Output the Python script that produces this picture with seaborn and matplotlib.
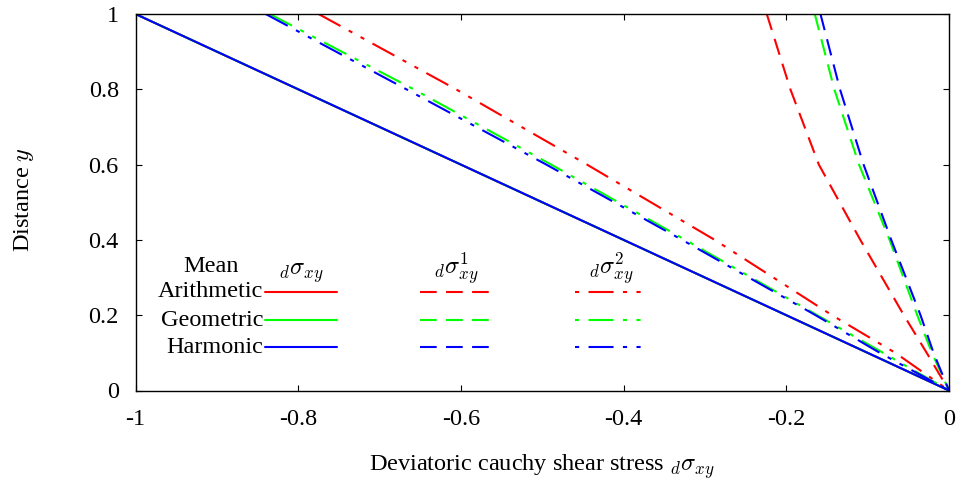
import matplotlib
matplotlib.use("Agg")
import matplotlib.pyplot as plt
import numpy as np
import pandas as pd
import seaborn as sns
from matplotlib.ticker import FixedLocator, FuncFormatter

# ---------------- data ----------------
means = ["Arithmetic", "Geometric", "Harmonic"]
quantities = ["s0", "s1", "s2"]
quantity_labels = [r"${}_{d}\sigma_{xy}$", r"${}_{d}\sigma^{1}_{xy}$", r"${}_{d}\sigma^{2}_{xy}$"]
colors = ["#ff0000", "#00ff00", "#0000ff"]

# solid: d sigma_xy (identical for the three means)
y_s0 = [1.0, 0.0]
x_s0_arith = [-1.0, 0.0]
x_s0_geom = [-1.0, 0.0]
x_s0_harm = [-1.0, 0.0]

# curves sampled at these distances
y_curve = [1.0, 0.8, 0.6, 0.4, 0.2, 0.1, 0.0]
x_s1_arith = [-0.224, -0.195, -0.160, -0.109, -0.0555, -0.0274, 0.0]
x_s1_geom = [-0.165, -0.141, -0.1106, -0.073, -0.039, -0.021, 0.0]
x_s1_harm = [-0.158, -0.134, -0.105, -0.071, -0.035, -0.019, 0.0]
x_s2_arith = [-0.775, -0.606, -0.445, -0.288, -0.1438, -0.066, 0.0]
x_s2_geom = [-0.835, -0.658, -0.489, -0.324, -0.162, -0.081, 0.0]
x_s2_harm = [-0.840, -0.667, -0.495, -0.328, -0.164, -0.085, 0.0]

x_ticks = [-1.0, -0.8, -0.6, -0.4, -0.2, 0.0]
y_ticks = [0.0, 0.2, 0.4, 0.6, 0.8, 1.0]

series = {
    ("Arithmetic", "s0"): (x_s0_arith, y_s0),
    ("Arithmetic", "s1"): (x_s1_arith, y_curve),
    ("Arithmetic", "s2"): (x_s2_arith, y_curve),
    ("Geometric", "s0"): (x_s0_geom, y_s0),
    ("Geometric", "s1"): (x_s1_geom, y_curve),
    ("Geometric", "s2"): (x_s2_geom, y_curve),
    ("Harmonic", "s0"): (x_s0_harm, y_s0),
    ("Harmonic", "s1"): (x_s1_harm, y_curve),
    ("Harmonic", "s2"): (x_s2_harm, y_curve),
}
rows = []
for (m, q), (xs, ys) in series.items():
    for xv, yv in zip(xs, ys):
        rows.append({"mean": m, "qty": q, "x": xv, "y": yv})
df = pd.DataFrame(rows)

# ---------------- style ----------------
sns.set_theme(style="white")
FS = 17.5
plt.rcParams["font.family"] = ["Liberation Serif", "DejaVu Serif"]
plt.rcParams["mathtext.fontset"] = "cm"
plt.rcParams["axes.unicode_minus"] = False
plt.rcParams["font.size"] = FS

LW = 1.5
dash_patterns = {"s0": "", "s1": (8, 4.5), "s2": (12, 4.5, 2, 4.5, 2, 4.5)}
palette = dict(zip(means, colors))

W, H = 961, 479
fig = plt.figure(figsize=(W / 100, H / 100), dpi=100)
L, R, T, B = 135.5, 949.0, 14.0, 390.5
ax = fig.add_axes([L / W, 1 - B / H, (R - L) / W, (B - T) / H])

sns.lineplot(data=df, x="x", y="y", hue="mean", style="qty",
             hue_order=means, style_order=quantities,
             palette=palette, dashes=dash_patterns,
             estimator=None, errorbar=None, sort=False,
             linewidth=LW, legend=False, ax=ax)

ax.set_xlim(-1, 0)
ax.set_ylim(0, 1)
fmt = FuncFormatter(lambda v, _: f"{round(v, 6) + 0:g}")
ax.xaxis.set_major_locator(FixedLocator(x_ticks))
ax.yaxis.set_major_locator(FixedLocator(y_ticks))
ax.xaxis.set_major_formatter(fmt)
ax.yaxis.set_major_formatter(fmt)
ax.tick_params(direction="in", length=4.5, width=0.8, color="black",
               top=True, right=True, bottom=True, left=True,
               labelsize=FS, labelcolor="black")
ax.tick_params(axis="x", pad=13.5)
ax.tick_params(axis="y", pad=12)
for sp in ax.spines.values():
    sp.set_color("black")
    sp.set_linewidth(1.0)

ax.set_xlabel(r"Deviatoric cauchy shear stress ${}_{d}\sigma_{xy}$", fontsize=FS, color="black")
ax.set_ylabel(r"Distance $y$", fontsize=FS, color="black")
ax.xaxis.set_label_coords(0.5, -0.163)
ax.yaxis.set_label_coords(-0.122, 0.506)

# ---------------- custom legend (gnuplot style) ----------------
def fx(px):
    return (px - L) / (R - L)

def fy(py):
    return (B - py) / (B - T)

key_x0 = [265, 420, 575]
key_len = 72
row_y = [291.7, 320.0, 347.3]
label_right = 263
for i, m in enumerate(means):
    ax.text(fx(label_right), fy(row_y[i] + 5.5), m, transform=ax.transAxes,
            ha="right", va="baseline", fontsize=FS, color="black")
    for j, q in enumerate(quantities):
        pat = dash_patterns[q]
        ls = "-" if pat == "" else ((23 if j == 2 else 0), pat)
        ax.plot([fx(key_x0[j]), fx(key_x0[j] + key_len)], [fy(row_y[i])] * 2,
                transform=ax.transAxes, color=colors[i], lw=LW, linestyle=ls,
                clip_on=False)
ax.text(fx(211.5), fy(272), "Mean", transform=ax.transAxes,
        ha="center", va="baseline", fontsize=FS, color="black")
for j, lab in enumerate(quantity_labels):
    ax.text(fx(key_x0[j] + key_len / 2), fy(275), lab, transform=ax.transAxes,
            ha="center", va="baseline", fontsize=FS, color="black")

fig.savefig("out.png", dpi=100)
